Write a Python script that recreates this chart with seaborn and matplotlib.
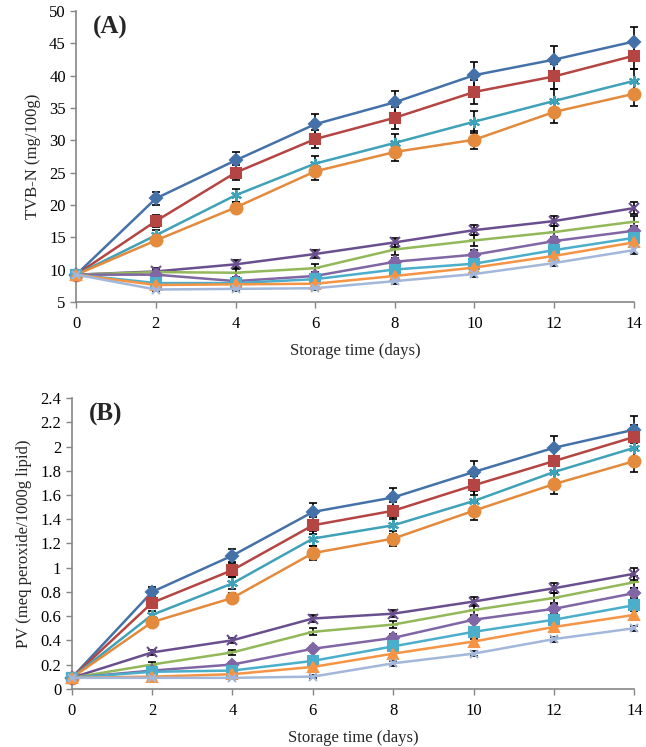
import numpy as np
import pandas as pd
import matplotlib
matplotlib.use("Agg")
import matplotlib.pyplot as plt
import seaborn as sns

# --- data ---
days = [0, 2, 4, 6, 8, 10, 12, 14]
series = ["S1", "S2", "S3", "S4", "S5", "S6", "S7", "S8", "S9", "S10"]

tvbn = {
    "S1": [9.2, 21.0, 26.9, 32.5, 35.9, 40.1, 42.5, 45.3],
    "S2": [9.2, 17.5, 25.0, 30.2, 33.5, 37.5, 39.9, 43.1],
    "S3": [9.2, 15.3, 21.5, 26.4, 29.6, 32.9, 36.1, 39.2],
    "S4": [9.2, 14.5, 19.6, 25.2, 28.2, 30.1, 34.4, 37.2],
    "S5": [9.2, 9.7, 10.8, 12.4, 14.2, 16.1, 17.5, 19.5],
    "S6": [9.2, 9.6, 9.5, 10.2, 13.1, 14.5, 15.8, 17.4],
    "S7": [9.2, 9.2, 8.2, 9.0, 11.2, 12.3, 14.4, 16.0],
    "S8": [9.2, 7.9, 7.9, 8.5, 10.0, 10.9, 13.0, 14.9],
    "S9": [9.2, 7.6, 7.7, 7.8, 9.0, 10.3, 12.1, 14.2],
    "S10": [9.2, 6.9, 7.0, 7.1, 8.2, 9.3, 11.0, 13.0],
}
tvbn_err = {
    "S1": [0.5, 1.0, 1.3, 1.6, 1.8, 2.0, 2.1, 2.2],
    "S2": [0.5, 0.9, 1.2, 1.4, 1.7, 1.9, 2.0, 2.1],
    "S3": [0.5, 0.8, 1.0, 1.2, 1.4, 1.7, 1.8, 1.9],
    "S4": [0.5, 0.7, 0.9, 1.3, 1.4, 1.4, 1.7, 1.9],
    "S5": [0.5, 0.6, 0.6, 0.6, 0.7, 0.8, 0.8, 0.9],
    "S6": [0.5, 0.5, 0.6, 0.6, 0.8, 0.8, 0.9, 0.9],
    "S7": [0.5, 0.5, 0.5, 0.5, 0.6, 0.7, 0.7, 0.8],
    "S8": [0.5, 0.4, 0.4, 0.5, 0.5, 0.6, 0.6, 0.7],
    "S9": [0.5, 0.4, 0.4, 0.4, 0.5, 0.5, 0.6, 0.6],
    "S10": [0.5, 0.3, 0.3, 0.3, 0.4, 0.5, 0.5, 0.6],
}

pv = {
    "S1": [0.09, 0.80, 1.10, 1.46, 1.58, 1.79, 1.99, 2.14],
    "S2": [0.09, 0.71, 0.98, 1.35, 1.47, 1.68, 1.88, 2.08],
    "S3": [0.09, 0.61, 0.87, 1.24, 1.35, 1.55, 1.79, 1.99],
    "S4": [0.09, 0.55, 0.75, 1.12, 1.24, 1.47, 1.69, 1.88],
    "S5": [0.09, 0.30, 0.40, 0.58, 0.62, 0.72, 0.83, 0.95],
    "S6": [0.09, 0.20, 0.30, 0.47, 0.53, 0.65, 0.75, 0.88],
    "S7": [0.09, 0.15, 0.20, 0.33, 0.42, 0.57, 0.66, 0.79],
    "S8": [0.09, 0.14, 0.15, 0.23, 0.35, 0.47, 0.57, 0.69],
    "S9": [0.09, 0.10, 0.12, 0.18, 0.29, 0.39, 0.51, 0.61],
    "S10": [0.09, 0.09, 0.09, 0.10, 0.21, 0.29, 0.41, 0.50],
}
pv_err = {
    "S1": [0.02, 0.04, 0.05, 0.07, 0.08, 0.09, 0.10, 0.11],
    "S2": [0.02, 0.04, 0.06, 0.07, 0.07, 0.08, 0.09, 0.10],
    "S3": [0.02, 0.03, 0.05, 0.06, 0.07, 0.08, 0.08, 0.09],
    "S4": [0.02, 0.03, 0.04, 0.06, 0.06, 0.08, 0.08, 0.09],
    "S5": [0.02, 0.02, 0.02, 0.03, 0.03, 0.04, 0.04, 0.05],
    "S6": [0.02, 0.02, 0.02, 0.03, 0.03, 0.04, 0.04, 0.05],
    "S7": [0.02, 0.02, 0.02, 0.02, 0.03, 0.03, 0.04, 0.04],
    "S8": [0.02, 0.01, 0.02, 0.02, 0.02, 0.03, 0.03, 0.03],
    "S9": [0.02, 0.01, 0.01, 0.02, 0.02, 0.02, 0.02, 0.03],
    "S10": [0.02, 0.01, 0.01, 0.01, 0.02, 0.02, 0.02, 0.02],
}

colors = ["#4472A8", "#B44542", "#3FA2B8", "#E38A3C", "#6A4F8E",
          "#93B85A", "#8066A4", "#4BAECA", "#F59445", "#A3B7DA"]
markers = ["D", "s", (6, 2, 0), "o", "x", "_", "D", "s", "^", "x"]
msizes = [6.5, 6.5, 8, 8.5, 7, 7, 6.5, 6.5, 6.5, 6]

# --- style ---
sns.set_theme(style="white")
plt.rcParams["font.family"] = ["Liberation Serif", "DejaVu Serif"]
plt.rcParams["axes.edgecolor"] = "#868686"


def draw(ax, vals, errs, ylim, yticks, ylabel, tag, ticklabels):
    for s in series:
        ax.errorbar(days, vals[s], yerr=errs[s], fmt="none", ecolor="black",
                    elinewidth=1.2, capsize=3, capthick=1.2, zorder=2,
                    clip_on=False)
    for s, c, m, ms in zip(series, colors, markers, msizes):
        df = pd.DataFrame({"day": days, "value": vals[s]})
        sns.lineplot(data=df, x="day", y="value", color=c, marker=m,
                     markersize=ms, markerfacecolor=c, markeredgecolor=c,
                     markeredgewidth=1.5, linewidth=1.8, ax=ax, zorder=3,
                     clip_on=False)
    ax.set_xlim(0, 14)
    ax.set_ylim(*ylim)
    ax.set_xticks(days)
    ax.set_yticks(yticks)
    ax.set_yticklabels(ticklabels)
    ax.set_xlabel("Storage time (days)", fontsize=12, labelpad=8)
    ax.set_ylabel(ylabel, fontsize=12, labelpad=6)
    ax.tick_params(axis="both", labelsize=12, colors="#868686",
                   labelcolor="black", direction="out", length=4, width=1,
                   left=True, bottom=True)
    ax.tick_params(axis="x", pad=6)
    for side in ["top", "right"]:
        ax.spines[side].set_visible(False)
    for side in ["left", "bottom"]:
        ax.spines[side].set_linewidth(1.2)
    ax.text(0.03, 0.945, tag, transform=ax.transAxes, fontsize=18,
            fontweight="bold", va="center", ha="left")


fig = plt.figure(figsize=(6.46, 7.47), dpi=100)
ax1 = fig.add_axes([0.118, 0.596, 0.863, 0.389])
ax2 = fig.add_axes([0.111, 0.078, 0.871, 0.389])

draw(ax1, tvbn, tvbn_err, (5, 50), list(range(5, 51, 5)), "TVB-N (mg/100g)",
     "(A)", [str(v) for v in range(5, 51, 5)])
pv_ticks = [round(0.2 * i, 1) for i in range(13)]
pv_labels = ["0", "0.2", "0.4", "0.6", "0.8", "1", "1.2", "1.4", "1.6",
             "1.8", "2", "2.2", "2.4"]
draw(ax2, pv, pv_err, (0, 2.4), pv_ticks, "PV (meq peroxide/1000g lipid)",
     "(B)", pv_labels)

fig.savefig("out.png", dpi=100)
